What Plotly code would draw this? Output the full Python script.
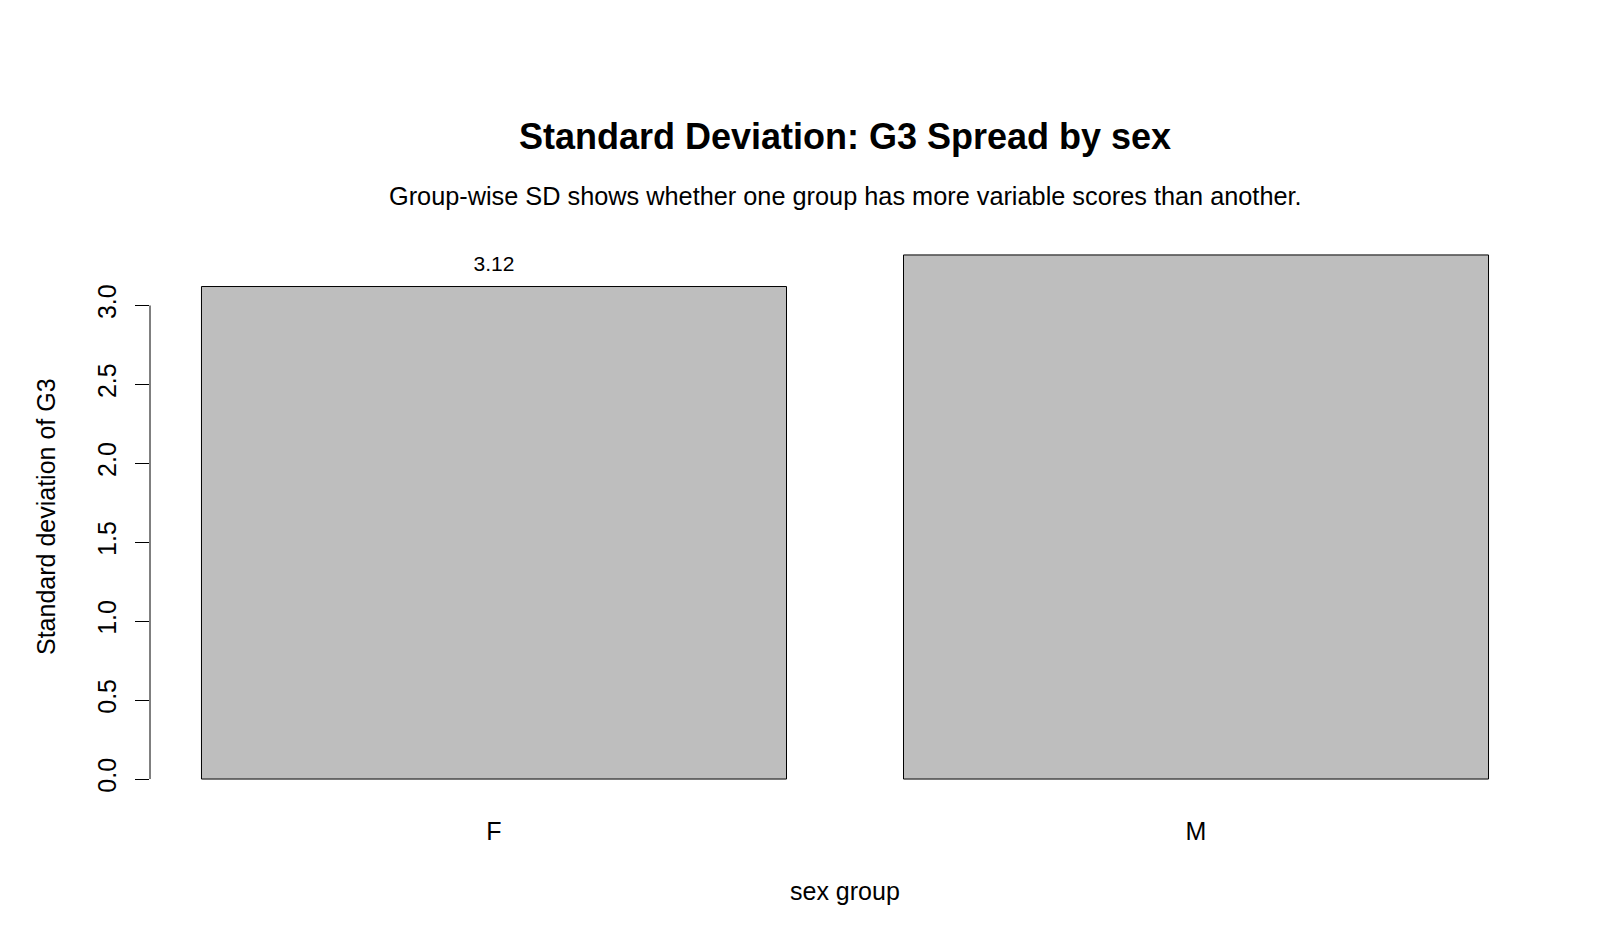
import plotly.graph_objects as go

# ---- data ----
groups = ["F", "M"]
sd_values = [3.12, 3.32]
y_ticks = [0.0, 0.5, 1.0, 1.5, 2.0, 2.5, 3.0]
y_tick_labels = ["0.0", "0.5", "1.0", "1.5", "2.0", "2.5", "3.0"]

title_text = "Standard Deviation: G3 Spread by sex"
subtitle_text = "Group-wise SD shows whether one group has more variable scores than another."
x_title = "sex group"
y_title = "Standard deviation of G3"

FONT = "Liberation Sans, Arial, sans-serif"

ymax = max(sd_values)
y_lo = -0.04 * ymax
y_hi = 1.04 * ymax
label_offset = 0.129
label_half_height = 0.07  # labels that would cross the top of the plot region are clipped (as in R)
label_y = [v + label_offset for v in sd_values]
label_text = [f"{v:.2f}" if ly + label_half_height <= y_hi else ""
              for v, ly in zip(sd_values, label_y)]

fig = go.Figure()
fig.add_trace(go.Bar(
    x=groups, y=sd_values,
    marker=dict(color="#BEBEBE", line=dict(color="black", width=1)),
    showlegend=False, hoverinfo="x+y",
))
fig.add_trace(go.Scatter(
    x=groups, y=label_y, mode="text", text=label_text,
    textposition="middle center",
    textfont=dict(family=FONT, size=21, color="black"),
    showlegend=False, hoverinfo="skip",
))

W, H = 1600, 950
L, R, T, B = 150, 60, 234, 150

fig.update_layout(
    width=W, height=H,
    margin=dict(l=L, r=R, t=T, b=B, autoexpand=False),
    paper_bgcolor="white", plot_bgcolor="white",
    bargap=1 - 1 / 1.2,
    font=dict(family=FONT, size=25, color="black"),
    title=dict(
        text=f"<b>{title_text}</b>",
        font=dict(family=FONT, size=36, color="black"),
        x=0.5, xref="paper", xanchor="center",
        y=1 - 136 / H, yref="container", yanchor="middle",
    ),
    xaxis=dict(
        range=[-0.49, 1.49], showline=False, showgrid=False, zeroline=False,
        ticks="", ticklabelstandoff=14,
        tickfont=dict(family=FONT, size=25, color="black"),
    ),
    yaxis=dict(
        range=[y_lo, y_hi], showline=False, showgrid=False, zeroline=False,
        tickmode="array", tickvals=y_ticks, ticktext=y_tick_labels,
        ticks="outside", ticklen=14, tickwidth=1, tickcolor="black",
        tickangle=-90, ticklabelstandoff=9,
        tickfont=dict(family=FONT, size=25, color="black"),
    ),
    shapes=[dict(
        type="line", xref="paper", yref="y",
        x0=0, x1=0, y0=min(y_ticks), y1=max(y_ticks),
        line=dict(color="black", width=1),
    )],
    annotations=[
        dict(text=subtitle_text, xref="paper", yref="paper",
             x=0.5, y=(H - B - 196) / (H - T - B), xanchor="center", yanchor="middle",
             showarrow=False, font=dict(family=FONT, size=25.3, color="black")),
        dict(text=x_title, xref="paper", yref="paper",
             x=0.5, y=(H - B - 891) / (H - T - B), xanchor="center", yanchor="middle",
             showarrow=False, font=dict(family=FONT, size=25, color="black")),
        dict(text=y_title, xref="paper", yref="paper", textangle=-90,
             x=(46 - L) / (W - L - R), y=0.5, xanchor="center", yanchor="middle",
             showarrow=False, font=dict(family=FONT, size=25, color="black")),
    ],
)

fig.write_html("out.html")
